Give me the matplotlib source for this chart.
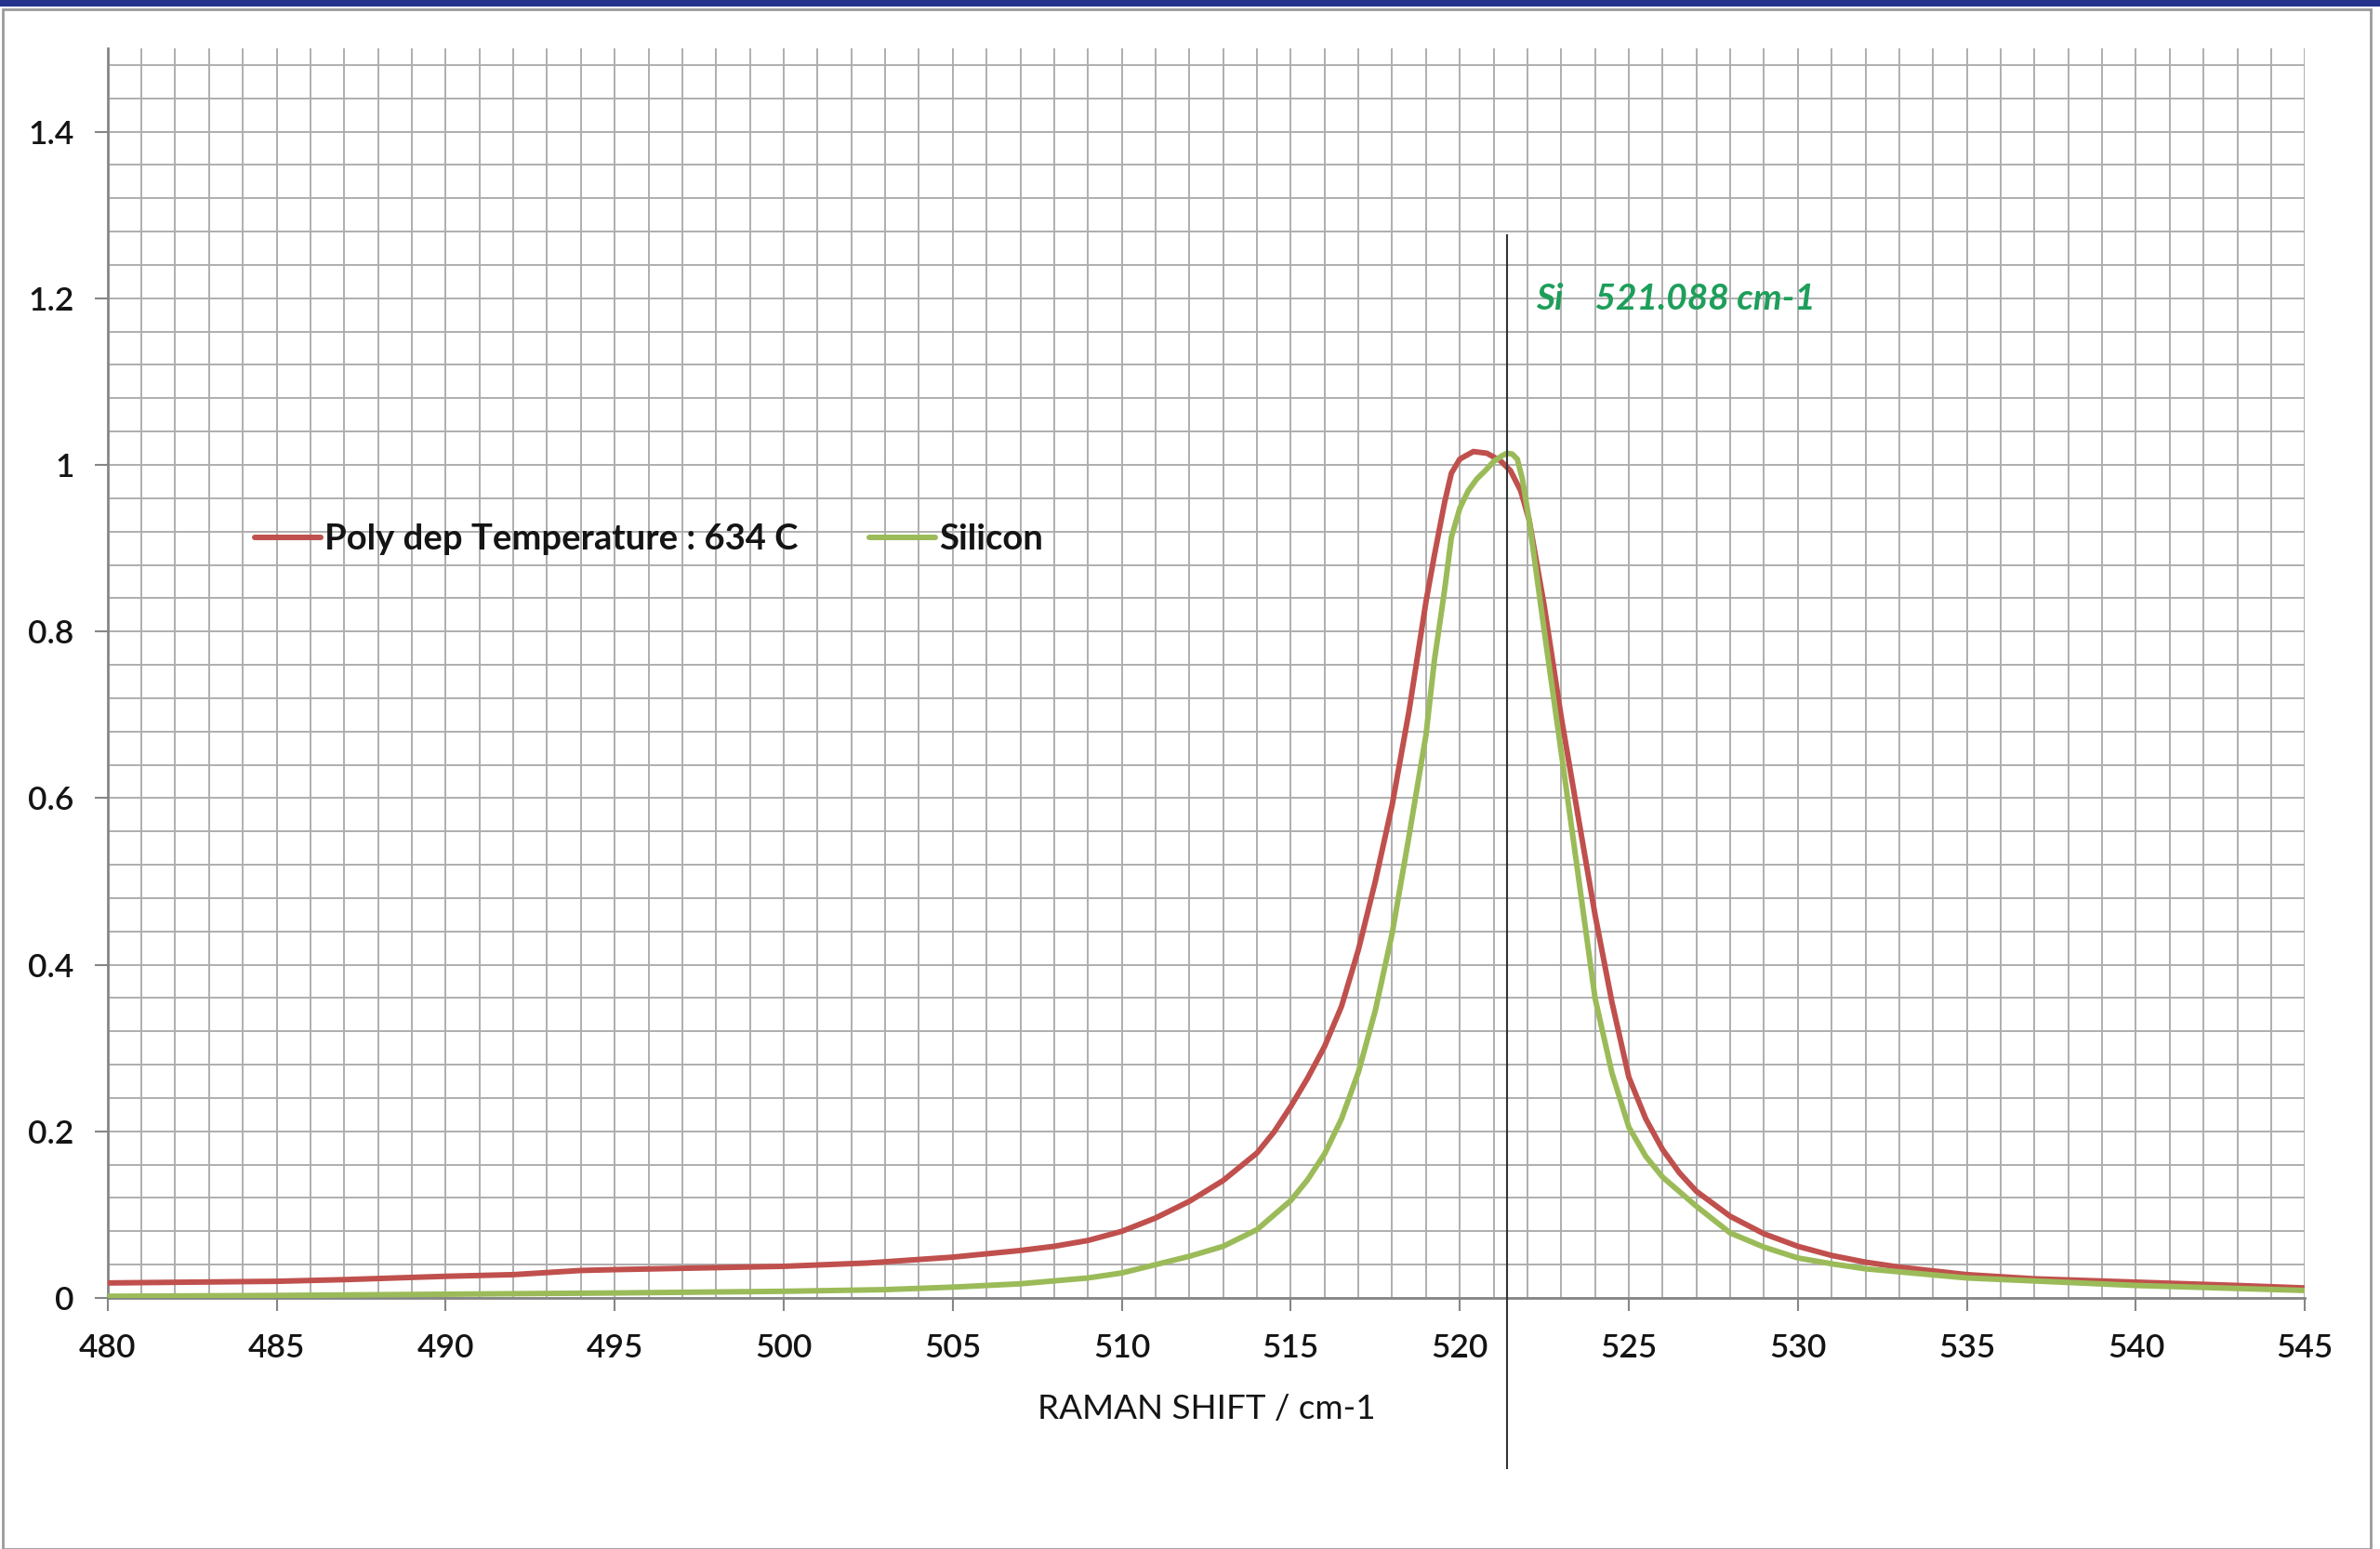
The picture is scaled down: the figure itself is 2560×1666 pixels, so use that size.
import matplotlib
matplotlib.use("Agg")
import matplotlib.pyplot as plt
import numpy as np
from matplotlib.patches import Rectangle

# ---------------- data ----------------
poly_x = [480, 485, 487, 490, 492, 494, 495, 500, 502.5, 505, 507, 508, 509, 510, 511, 512,
          513, 514, 514.5, 515, 515.5, 516, 516.5, 517, 517.5, 518, 518.5, 519, 519.25, 519.55,
          519.75, 520, 520.4, 520.8, 521.2, 521.5, 521.8, 522.05, 522.5, 523, 523.5, 524,
          524.5, 525, 525.5, 526, 526.5, 527, 528, 529, 530, 531, 532, 533, 535, 537, 540,
          543, 545]
poly_y = [0.018, 0.020, 0.022, 0.026, 0.028, 0.033, 0.034, 0.038, 0.042, 0.049, 0.057, 0.062,
          0.069, 0.080, 0.096, 0.116, 0.141, 0.174, 0.199, 0.230, 0.264, 0.302, 0.350, 0.418,
          0.500, 0.592, 0.705, 0.836, 0.892, 0.955, 0.990, 1.007, 1.016, 1.014, 1.005, 0.993,
          0.969, 0.934, 0.830, 0.697, 0.578, 0.460, 0.355, 0.265, 0.215, 0.178, 0.150, 0.128,
          0.098, 0.077, 0.062, 0.051, 0.043, 0.037, 0.028, 0.023, 0.019, 0.015, 0.012]

si_x = [480, 485, 490, 495, 500, 503, 505, 507, 509, 510, 511, 512, 513, 514, 515, 515.5, 516,
        516.5, 517, 517.5, 518, 518.5, 519, 519.25, 519.55, 519.75, 520, 520.25, 520.5, 520.75,
        521, 521.25, 521.4, 521.55, 521.7, 521.85, 522.05, 522.5, 523, 523.5, 524, 524.5, 525,
        525.5, 526, 527, 528, 529, 530, 531, 532, 535, 540, 545]
si_y = [0.002, 0.003, 0.0045, 0.006, 0.008, 0.010, 0.013, 0.017, 0.024, 0.030, 0.040, 0.050,
        0.062, 0.082, 0.117, 0.142, 0.173, 0.215, 0.271, 0.345, 0.438, 0.555, 0.676, 0.766,
        0.850, 0.913, 0.948, 0.969, 0.983, 0.993, 1.004, 1.011, 1.014, 1.013, 1.007, 0.983,
        0.934, 0.800, 0.655, 0.508, 0.360, 0.270, 0.205, 0.170, 0.145, 0.110, 0.078, 0.061,
        0.048, 0.041, 0.035, 0.024, 0.015, 0.009]

series_labels = ["Poly dep Temperature : 634 C", "Silicon"]
x_ticks = [480, 485, 490, 495, 500, 505, 510, 515, 520, 525, 530, 535, 540, 545]
y_ticks = [0, 0.2, 0.4, 0.6, 0.8, 1.0, 1.2, 1.4]
y_ticklabels = ["0", "0.2", "0.4", "0.6", "0.8", "1", "1.2", "1.4"]
si_peak_line = 521.4
annotation_text = "Si    521.088 cm-1"
x_label = "RAMAN SHIFT / cm-1"

# ---------------- style ----------------
FONT = ["Lato", "DejaVu Sans"]
plt.rcParams["font.family"] = FONT
plt.rcParams["font.weight"] = "semibold"
RED = "#C0504D"
GREEN = "#9BBB59"
GRID = "#AEAEAE"
TXT = "#141414"

fig = plt.figure(figsize=(25.6, 16.66), dpi=100)
fig.patch.set_facecolor("white")

# outer frame and top navy bar
fig.add_artist(Rectangle((3 / 2560, 0.0), (2550 - 3) / 2560, 1 - 10 / 1666,
                         transform=fig.transFigure, fill=False, edgecolor="#9A9A9A",
                         linewidth=2.0))
fig.add_artist(Rectangle((0, 1 - 7 / 1666), 1, 7 / 1666, transform=fig.transFigure,
                         facecolor="#26338C", edgecolor="none"))

ax = fig.add_axes([115.7 / 2560, 1 - 1396 / 1666, (2479.3 - 115.7) / 2560, (1396 - 52) / 1666])
ax.set_xlim(480, 545)
ax.set_ylim(0, 1.5)

# grid
ax.set_xticks(np.arange(480, 546, 1), minor=True)
ax.set_yticks(np.arange(0, 1.501, 0.04), minor=True)
ax.grid(which="minor", color=GRID, linewidth=1.4)
ax.grid(which="major", color=GRID, linewidth=1.4)
ax.set_axisbelow(True)

ax.set_xticks(x_ticks)
ax.set_xticklabels([str(t) for t in x_ticks])
ax.set_yticks(y_ticks)
ax.set_yticklabels(y_ticklabels)
ax.tick_params(which="minor", length=0)
ax.tick_params(which="major", direction="out", length=10, width=1.5, color="#868686",
               labelsize=25.5, labelcolor=TXT)
ax.tick_params(axis="x", pad=17)
ax.tick_params(axis="y", pad=16)

for s in ["top", "right"]:
    ax.spines[s].set_visible(False)
for s in ["left", "bottom"]:
    ax.spines[s].set_color("#868686")
    ax.spines[s].set_linewidth(2.0)

l1, = ax.plot(poly_x, poly_y, color=RED, linewidth=4.3, solid_capstyle="round",
              solid_joinstyle="round", label=series_labels[0], zorder=3)
l2, = ax.plot(si_x, si_y, color=GREEN, linewidth=4.3, solid_capstyle="round",
              solid_joinstyle="round", label=series_labels[1], zorder=3)

# vertical marker line
ax.plot([si_peak_line, si_peak_line], [1.276, -0.204], color="#333333", linewidth=1.5,
        clip_on=False, zorder=4)
ax.text(522.25, 1.199, annotation_text, color="#1E9E5A", fontsize=28, style="italic",
        fontweight="bold", ha="left", va="center")

ax.set_xlabel(x_label, fontsize=26.5, color=TXT, labelpad=24)

leg = ax.legend(handles=[l1, l2], loc="center left", bbox_to_anchor=(0.067, 0.607),
                ncol=2, frameon=False, prop={"family": FONT, "size": 27.5, "weight": "bold"},
                handlelength=1.85, handletextpad=0.12, columnspacing=2.0, borderpad=0,
                borderaxespad=0)
for t in leg.get_texts():
    t.set_color(TXT)

fig.savefig("out.png", dpi=100, facecolor="white")
